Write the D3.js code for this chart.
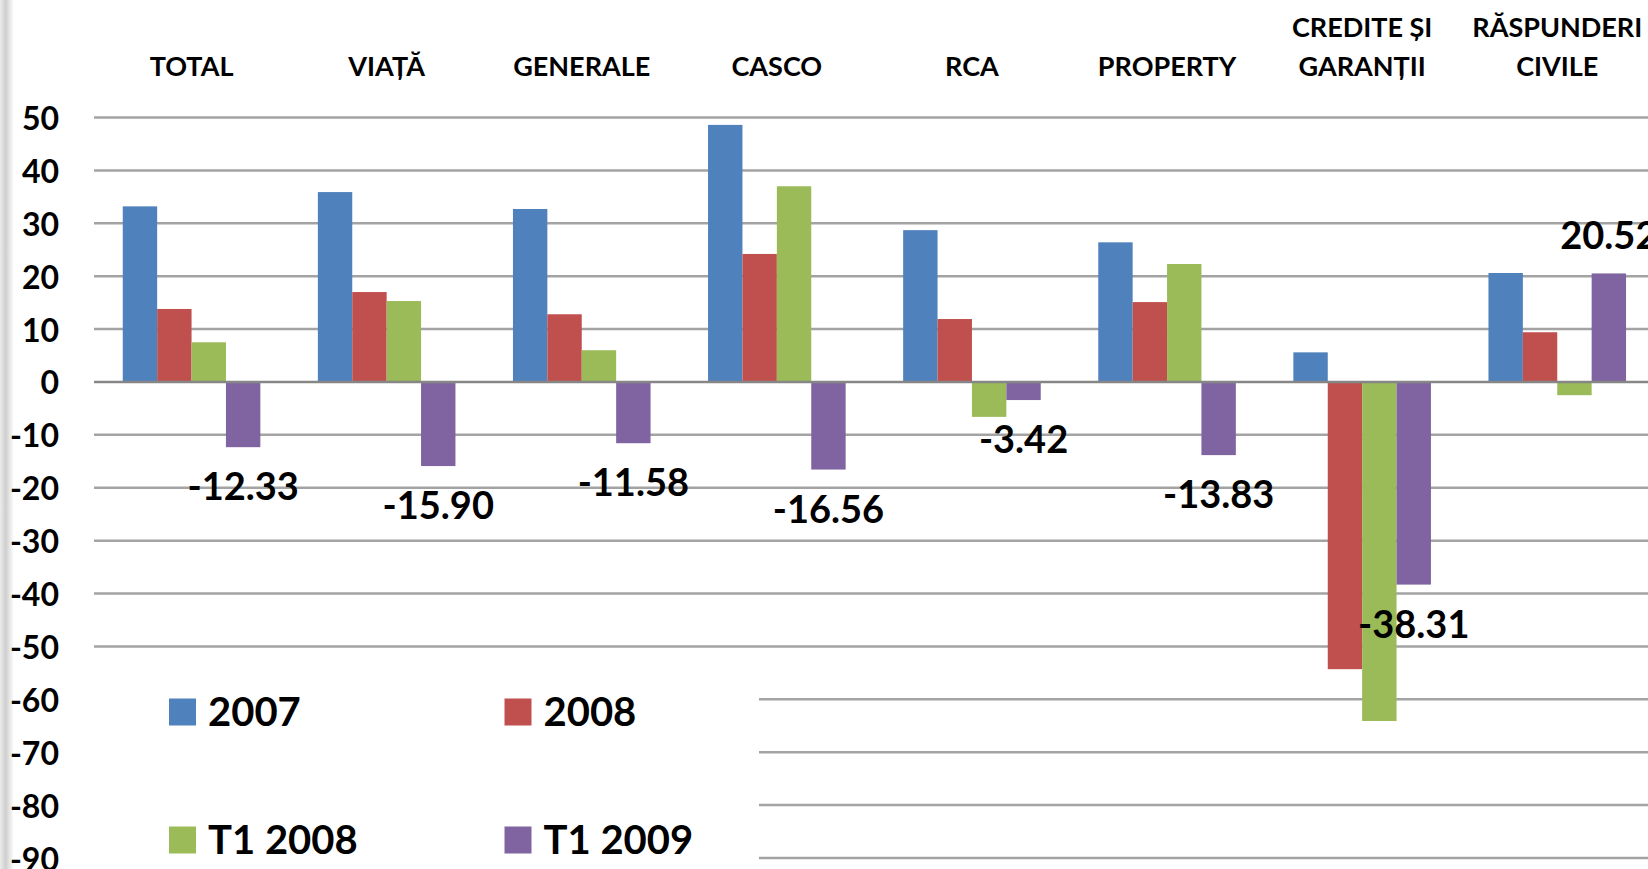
<!DOCTYPE html>
<html>
<head>
<meta charset="utf-8">
<script src="https://cdn.jsdelivr.net/npm/d3@7"></script>
<style>
  html, body { margin: 0; padding: 0; background: #fff; }
  svg { display: block; }
  text { font-family: Lato, "Open Sans", sans-serif; font-weight: 700; fill: #000; }
</style>
</head>
<body>
<svg id="chart" width="1648" height="869"></svg>
<script>
// ---- data ----
const categories = [
  ["TOTAL"], ["VIAȚĂ"], ["GENERALE"], ["CASCO"], ["RCA"], ["PROPERTY"],
  ["CREDITE ȘI", "GARANȚII"], ["RĂSPUNDERI", "CIVILE"]
];
const seriesNames = ["2007", "2008", "T1 2008", "T1 2009"];
const seriesColors = ["#4F81BD", "#C0504D", "#9BBB59", "#8064A2"];
const values2007   = [33.2, 35.9, 32.7, 48.6, 28.7, 26.4, 5.6, 20.6];
const values2008   = [13.8, 17.0, 12.8, 24.2, 11.9, 15.1, -54.3, 9.4];
const valuesT12008 = [7.5, 15.3, 6.0, 37.0, -6.6, 22.3, -64.1, -2.5];
const valuesT12009 = [-12.33, -15.90, -11.58, -16.56, -3.42, -13.83, -38.31, 20.52];
const yTicks = [50, 40, 30, 20, 10, 0, -10, -20, -30, -40, -50, -60, -70, -80, -90];

const seriesValues = [values2007, values2008, valuesT12008, valuesT12009];
const labelledSeries = 3;

// ---- layout ----
const svg = d3.select("#chart");
const plotLeft = 94, step = 195.1;
const catKeys = categories.map((c, i) => i);

const x0 = d3.scaleBand().domain(catKeys).range([plotLeft, plotLeft + step * categories.length]).padding(0);
const x1 = d3.scaleBand().domain(d3.range(seriesNames.length)).range([0, x0.bandwidth()])
  .paddingInner(0).paddingOuter(0.836);
const y = d3.scaleLinear().domain([-90, 50]).range([858, 117.5]);

// left slide edge gradient
const defs = svg.append("defs");
const grad = defs.append("linearGradient").attr("id", "edge").attr("x1", "0").attr("x2", "1");
grad.append("stop").attr("offset", "0%").attr("stop-color", "#ececec");
grad.append("stop").attr("offset", "40%").attr("stop-color", "#cfcfcf");
grad.append("stop").attr("offset", "100%").attr("stop-color", "#ffffff");
svg.append("rect").attr("x", 0).attr("y", 0).attr("width", 14).attr("height", 869).attr("fill", "url(#edge)");

// gridlines
svg.append("g").selectAll("line").data(yTicks.filter(d => d !== 0)).join("line")
  .attr("x1", plotLeft).attr("x2", 1660)
  .attr("y1", d => y(d)).attr("y2", d => y(d))
  .attr("stroke", "#a3a3a3").attr("stroke-width", 2.5);

// y tick labels
svg.append("g").selectAll("text").data(yTicks).join("text")
  .attr("x", 59).attr("y", d => y(d))
  .attr("text-anchor", "end").attr("dominant-baseline", "central")
  .attr("font-size", 32)
  .text(d => d);

// bars
const gCat = svg.append("g").selectAll("g").data(catKeys).join("g")
  .attr("transform", i => `translate(${x0(i)},0)`);
gCat.selectAll("rect").data(i => seriesValues.map((vals, s) => ({ s, v: vals[i] }))).join("rect")
  .attr("x", d => x1(d.s))
  .attr("width", x1.bandwidth())
  .attr("y", d => y(Math.max(0, d.v)))
  .attr("height", d => Math.abs(y(d.v) - y(0)))
  .attr("fill", d => seriesColors[d.s]);

// zero axis line
svg.append("line").attr("x1", plotLeft).attr("x2", 1660).attr("y1", y(0)).attr("y2", y(0))
  .attr("stroke", "#868686").attr("stroke-width", 2.5);

// category labels (top)
const catLabels = svg.append("g").selectAll("text").data(catKeys).join("text")
  .attr("text-anchor", "middle").attr("font-size", 27)
  .attr("x", i => x0(i) + x0.bandwidth() / 2);
catLabels.each(function(i) {
  const lines = categories[i];
  const t = d3.select(this);
  lines.forEach((ln, k) => {
    t.append("tspan")
      .attr("x", x0(i) + x0.bandwidth() / 2)
      .attr("y", 76 - (lines.length - 1 - k) * 39.3)
      .text(ln);
  });
});

// data labels for T1 2009
svg.append("g").selectAll("text").data(catKeys).join("text")
  .attr("text-anchor", "middle").attr("font-size", 38)
  .attr("x", i => x0(i) + x1(labelledSeries) + x1.bandwidth() / 2)
  .attr("y", i => {
    const v = seriesValues[labelledSeries][i];
    return v >= 0 ? y(v) - 24 : y(v) + 53;
  })
  .text(i => seriesValues[labelledSeries][i].toFixed(2));

// legend
svg.append("rect").attr("x", plotLeft - 2).attr("y", 665).attr("width", 759 - plotLeft + 2).attr("height", 210).attr("fill", "#fff");
const legendPos = [[169, 698.5], [504.5, 698.5], [169, 826.5], [504.5, 826.5]];
const lg = svg.append("g").selectAll("g").data(seriesNames).join("g")
  .attr("transform", (d, i) => `translate(${legendPos[i][0]},${legendPos[i][1]})`);
lg.append("rect").attr("width", 27).attr("height", 27).attr("fill", (d, i) => seriesColors[i]);
lg.append("text").attr("x", 39).attr("y", 27).attr("font-size", 40).text(d => d);
</script>
</body>
</html>
